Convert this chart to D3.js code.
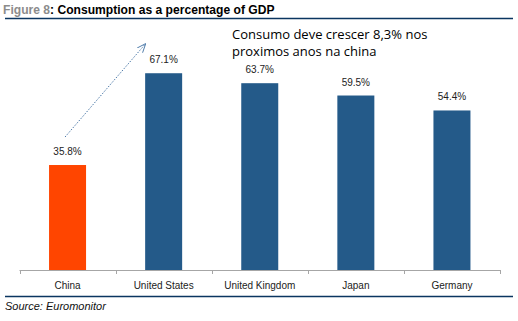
<!DOCTYPE html>
<html><head><meta charset="utf-8">
<script src="https://cdn.jsdelivr.net/npm/d3@7"></script>
<style>body{margin:0;background:#fff}svg{display:block}</style>
</head><body>
<svg id="c" width="518" height="321"></svg>
<script>
const categories = ["China","United States","United Kingdom","Japan","Germany"];
const values = [35.8, 67.1, 63.7, 59.5, 54.4];
const labels = ["35.8%","67.1%","63.7%","59.5%","54.4%"];
const highlight = ["China"];
const annotation = ["Consumo deve crescer 8,3% nos","proximos anos na china"];

const svg = d3.select("#c");
const font = "'Liberation Sans', Arial, sans-serif";

// title
const t = svg.append("text").attr("x",3).attr("y",14).attr("font-family",font).attr("font-size",12.1).attr("font-weight","bold");
t.append("tspan").attr("fill","#8c8c8c").text("Figure 8");
t.append("tspan").attr("fill","#000").text(": Consumption as a percentage of GDP");
svg.append("line").attr("x1",5).attr("x2",513).attr("y1",18.5).attr("y2",18.5).attr("stroke","#0b3560").attr("stroke-width",1.5);

const x = d3.scaleBand().domain(categories).range([19.5,500]).paddingInner(0.615).paddingOuter(0.3075);
const y = d3.scaleLinear().domain([0,80]).range([270,35.4]);

svg.selectAll("rect.bar").data(categories).join("rect").attr("class","bar")
  .attr("x",d=>x(d)).attr("width",x.bandwidth())
  .attr("y",(d,i)=>y(values[i])).attr("height",(d,i)=>y(0)-y(values[i]))
  .attr("fill",d=>highlight.includes(d)?"#ff4500":"#245a89");

svg.selectAll("text.val").data(categories).join("text").attr("class","val")
  .attr("x",d=>x(d)+x.bandwidth()/2).attr("y",(d,i)=>y(values[i])-10)
  .attr("text-anchor","middle").attr("font-family",font).attr("font-size",10).attr("fill","#222")
  .text((d,i)=>labels[i]);

// axis
const step = x.step();
const xa = d3.axisBottom(x).tickSize(0).tickPadding(10);
const g = svg.append("g").attr("transform","translate(0,270)").call(xa);
g.select(".domain").attr("stroke","#a6a6a6").attr("d","M19.5,0.5H500.5");
g.selectAll(".tick text").attr("font-family",font).attr("font-size",10).attr("fill","#222").attr("dy","0.9em");
const bounds = [x.range()[0]].concat(categories.map(c=>x(c)-x.paddingOuter()*step+step));
g.selectAll("line.tk").data(bounds).join("line").attr("class","tk")
  .attr("x1",d=>Math.round(d)+0.5).attr("x2",d=>Math.round(d)+0.5).attr("y1",0).attr("y2",4)
  .attr("stroke","#a6a6a6");

// arrow annotation
const defs = svg.append("defs");
defs.append("marker").attr("id","ah").attr("viewBox","0 0 10 10").attr("refX",9).attr("refY",5)
  .attr("markerWidth",9).attr("markerHeight",9).attr("orient","auto").attr("markerUnits","userSpaceOnUse")
  .append("path").attr("d","M0,1L10,5L0,9").attr("fill","none").attr("stroke","#4a78a8").attr("stroke-width",1);
const ax0 = x("China")+x.bandwidth()/2 - 2.5, ay0 = y(values[0]) - 28;
const ax1 = x("United States"), ay1 = y(values[1]) - 29;
svg.append("line").attr("x1",ax0).attr("y1",ay0).attr("x2",ax1).attr("y2",ay1)
  .attr("stroke","#4a78a8").attr("stroke-width",1).attr("stroke-dasharray","1.5,1.5").attr("marker-end","url(#ah)");

const an = svg.append("text").attr("font-family","'Open Sans', 'Noto Sans', sans-serif").attr("font-size",13).attr("fill","#000");
annotation.forEach((s,i)=>an.append("tspan").attr("x",232).attr("y",39+i*17).text(s));

// bottom rule and source
svg.append("line").attr("x1",5).attr("x2",513).attr("y1",296.5).attr("y2",296.5).attr("stroke","#0b3560").attr("stroke-width",1.5);
svg.append("text").attr("x",5).attr("y",310).attr("font-family",font).attr("font-size",11).attr("font-style","italic").attr("fill","#111").text("Source: Euromonitor");
</script>
</body></html>
